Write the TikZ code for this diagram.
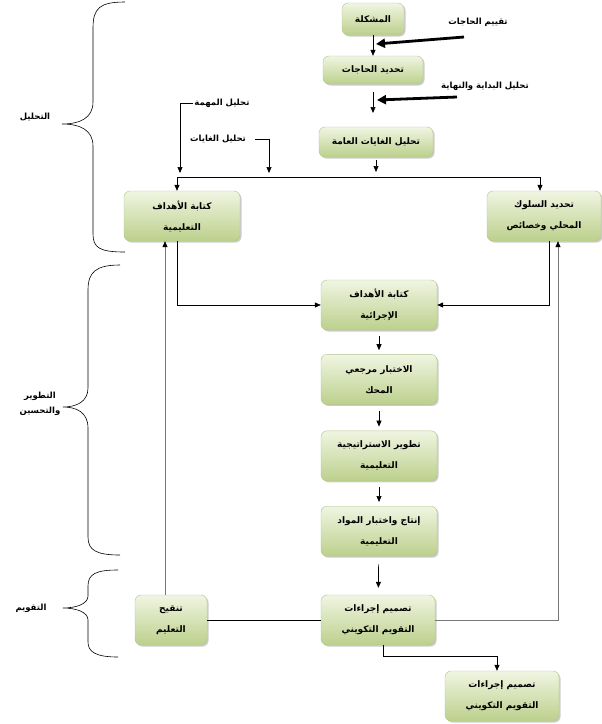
\documentclass[tikz,border=0pt]{standalone}
\usepackage{fontspec}
\usepackage{xcolor}
\newfontfamily\arabicfont[Script=Arabic, BoldFont={DejaVu Sans Bold}]{DejaVu Sans}
\TeXXeTstate=1
\usetikzlibrary{arrows.meta, positioning, shadows}
\definecolor{boxlight}{RGB}{240,245,226}
\definecolor{boxdark}{RGB}{188,208,140}
\definecolor{boxedge}{RGB}{178,196,140}
\definecolor{linegray}{RGB}{120,120,120}
\newcommand{\artext}[1]{\beginR #1\endR}
\tikzset{
  stepbox/.style={draw=boxedge, rounded corners=6pt, minimum width=116, minimum height=50, align=center,
    top color=boxlight, bottom color=boxdark, drop shadow={shadow xshift=1.5pt, shadow yshift=-1.5pt, opacity=0.4},
    font=\arabicfont\bfseries\fontsize{9}{21}\selectfont},
  smallbox/.style={stepbox, minimum height=30},
  label/.style={font=\arabicfont\bfseries\fontsize{8.5}{15}\selectfont, inner sep=1pt, align=center},
  arrow/.style={-{Triangle[length=6pt, width=5pt]}, line width=0.7pt},
  bigarrow/.style={-{Triangle[length=9pt, width=9pt]}, line width=2.8pt},
  grayarrow/.style={-{Triangle[length=6pt, width=5pt, color=black]}, line width=0.7pt, draw=linegray},
  plainline/.style={line width=0.7pt},
  bracket/.style={line width=0.6pt}
}

\begin{document}
\begin{tikzpicture}[x=1pt, y=-1pt]
\useasboundingbox (0,0) rectangle (602,724);

% Nodes
\node[smallbox, minimum width=62, minimum height=32] (prob) at (373,19) {\artext{المشكلة}};
\node[smallbox, minimum width=100, minimum height=28] (needs) at (373,70) {\artext{تحديد الحاجات}};
\node[smallbox, minimum width=114] (goals) at (376,142) {\artext{تحليل الغايات العامة}};
\node[stepbox] (instr) at (182,216) {\artext{كتابة الأهداف}\\\artext{التعليمية}};
\node[stepbox, minimum width=114] (behav) at (544,216) {\artext{تحديد السلوك}\\\artext{المحلي وخصائص}};
\node[stepbox] (perf) at (379,305) {\artext{كتابة الأهداف}\\\artext{الإجرائية}};
\node[stepbox, below=24pt of perf] (test) {\artext{الاختبار مرجعي}\\\artext{المحك}};
\node[stepbox, below=26pt of test] (strat) {\artext{تطوير الاستراتيجية}\\\artext{التعليمية}};
\node[stepbox, below=25pt of strat] (mater) {\artext{إنتاج واختبار المواد}\\\artext{التعليمية}};
\node[stepbox, minimum width=114] (form) at (378,620) {\artext{تصميم إجراءات}\\\artext{التقويم التكويني}};
\node[stepbox, minimum width=72] (revise) at (171,620) {\artext{تنقيح}\\\artext{التعليم}};
\node[stepbox, minimum width=114] (final) at (502,696) {\artext{تصميم إجراءات}\\\artext{التقويم التكويني}};

% Side labels
\node[label] (needlbl) at (478,22) {\artext{تقييم الحاجات}};
\node[label] (endslbl) at (485,86) {\artext{تحليل البداية والنهاية}};
\node[label] (tasklbl) at (222,103) {\artext{تحليل المهمة}};
\node[label] (aimslbl) at (218,139) {\artext{تحليل الغايات}};
\node[label] (analysis) at (35,117) {\artext{التحليل}};
\node[label] (develop) at (40,404) {\artext{التطوير}\\\artext{والتحسين}};
\node[label] (evalu) at (31,608) {\artext{التقويم}};

% Coordinates
\coordinate (gap1) at (373,113);
\coordinate (busL) at (177,177);
\coordinate (busR) at (540,177);
\coordinate (taskend) at (180,173);
\coordinate (aimsend) at (269,173);
\coordinate (thick1) at (464,37);
\coordinate (thick1end) at (376,44);
\coordinate (thick2) at (457,97);
\coordinate (thick2end) at (377,100);

% Connections
\draw[arrow] (prob) -- (needs);
\draw[arrow] ([yshift=-8pt]needs.south) -- (gap1);
\draw[bigarrow] (thick1) -- (thick1end);
\draw[bigarrow] (thick2) -- (thick2end);
\draw[plainline] (busL) -- (busR);
\draw[arrow, shorten <=3pt, shorten >=5pt] (goals.south) -- (goals.south |- busL);
\draw[arrow] (busL) -- (busL |- instr.north);
\draw[arrow] (busR) -- (busR |- behav.north);
\draw[arrow] (tasklbl.west) -| (taskend);
\draw[arrow] ([xshift=8pt]aimslbl.east) -| (aimsend);
\draw[arrow] ([xshift=-5pt]instr.south) |- (perf.west);
\draw[arrow] ([xshift=5pt]behav.south) |- (perf.east);
\draw[arrow, shorten <=6pt, shorten >=4pt] (perf) -- (test);
\draw[arrow, shorten <=6pt, shorten >=4pt] (test) -- (strat);
\draw[arrow, shorten <=6pt, shorten >=4pt] (strat) -- (mater);
\draw[arrow, shorten <=8pt, shorten >=7pt] (mater) -- (form);
\draw[grayarrow] ([xshift=-6pt]revise.north) -- ([xshift=-6pt]revise.north |- instr.south);
\draw[plainline] (revise) -- (form);
\draw[grayarrow] (form.east) -| ([xshift=14pt]behav.south);
\draw[arrow] ([xshift=5pt]form.south) -- ++(0,11) -| ([xshift=-5pt]final.north);

% Braces
\draw[bracket] (125,2) .. controls (100,2) and (93,8) .. (93,28) -- (93,102)
  .. controls (93,118) and (80,124) .. (62,124) .. controls (80,124) and (93,130) .. (93,146)
  -- (93,234) .. controls (93,248) and (100,252) .. (125,252);
\draw[bracket] (120,265) .. controls (96,265) and (88,272) .. (88,290) -- (88,388)
  .. controls (88,402) and (76,407) .. (63,407) .. controls (76,407) and (88,412) .. (88,428)
  -- (88,537) .. controls (88,550) and (96,555) .. (120,555);
\draw[bracket] (118,570) .. controls (96,570) and (88,574) .. (88,586) -- (88,596)
  .. controls (88,604) and (76,608) .. (63,608) .. controls (76,608) and (88,612) .. (88,620)
  -- (88,642) .. controls (88,652) and (96,657) .. (118,657);

\end{tikzpicture}
\end{document}
